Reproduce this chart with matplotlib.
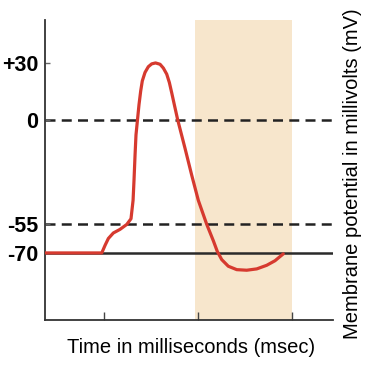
import matplotlib
matplotlib.use("Agg")
import matplotlib.pyplot as plt

plt.rcParams['font.family'] = ['Liberation Sans', 'DejaVu Sans']

# action potential trace (time in ms, voltage in mV)
t = [0.372, 0.976, 1.011, 1.046, 1.099, 1.170, 1.242, 1.287, 1.309, 1.319,
     1.330, 1.340, 1.354, 1.372, 1.390, 1.407, 1.436, 1.471, 1.507, 1.548,
     1.596, 1.631, 1.667, 1.695, 1.720, 1.748, 1.784, 1.862, 1.933, 2.003,
     2.093, 2.163, 2.205, 2.252, 2.322, 2.412, 2.518, 2.625, 2.731, 2.819,
     2.907]
v = [-70.0, -70.0, -66.0, -62.4, -59.5, -57.6, -55.0, -52.0, -42.3, -31.7,
     -18.5, -7.9, -0.9, 8.0, 15.2, 20.5, 25.0, 28.0, 29.5, 30.0,
     29.3, 27.3, 24.1, 19.7, 14.3, 8.0, 0.0, -15.0, -29.1, -42.3,
     -55.0, -63.6, -69.2, -73.5, -77.0, -78.8, -79.1, -78.4, -76.5, -74.1,
     -70.5]

ref_levels = [0, -55]          # dashed
rest_level = -70               # solid
ytick_vals = [30, 0, -55, -70]
ytick_labels = ['+30', '0', '-55', '-70']
xtick_vals = [1, 2, 3]
shade_span = (1.968, 3.0)

fig = plt.figure(figsize=(3.84, 3.70), dpi=100)
ax = fig.add_axes([45/384, 1-320/370, 288/384, 300/370])

ax.axvspan(*shade_span, color='#f7e6cc', lw=0, zorder=0)
for lv in ref_levels:
    ax.axhline(lv, color='#222222', lw=1.8, ls=(0, (4, 2.5)), zorder=1)
ax.axhline(rest_level, color='#2a2a2a', lw=1.8, zorder=1)
ax.plot(t, v, color='#d63a2f', lw=2.3, solid_capstyle='round',
        solid_joinstyle='round', zorder=3)

ax.set_xlim(0.372, 3.436)
ax.set_ylim(-105.3, 52.6)

ax.set_xticks(xtick_vals)
ax.set_xticklabels([])
ax.set_yticks(ytick_vals)
ax.set_yticklabels(ytick_labels, fontsize=15.5, fontweight='bold')
ax.tick_params(axis='x', direction='in', length=6, width=1, color='#444444')
ax.tick_params(axis='y', direction='in', length=3.5, width=1, color='#666666', pad=5)

for s in ['top', 'right']:
    ax.spines[s].set_visible(False)
for s in ['left', 'bottom']:
    ax.spines[s].set_color('#333333')
    ax.spines[s].set_linewidth(1.3)

fig.text(191/384, 1-353/370, 'Time in milliseconds (msec)', fontsize=14.5,
         ha='center', va='baseline')
fig.text(353/384, 1-173.5/370, 'Membrane potential in millivolts (mV)',
         fontsize=14.5, rotation=90, ha='center', va='center')

plt.savefig('out.png', dpi=100)
